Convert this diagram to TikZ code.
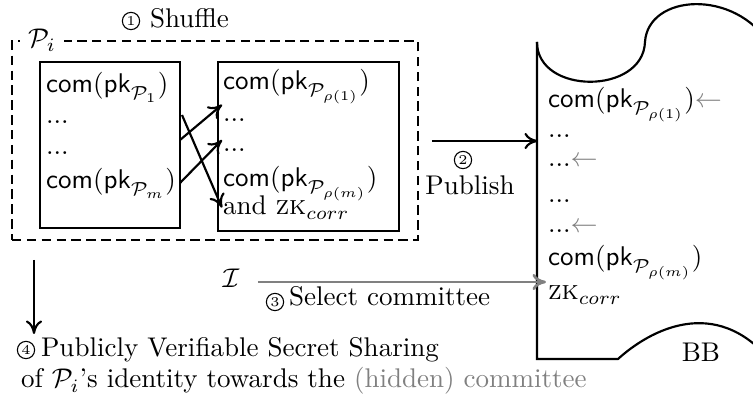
\documentclass[tikz,border=0pt]{standalone}
\usetikzlibrary{fit,arrows.meta}
\definecolor{hint}{gray}{0.5}
\newcommand{\commit}[1]{\ensuremath{\mathsf{com}(\mathsf{pk}_{\mathcal{P}_{#1}})}}
\newcommand{\zkcorr}{\ensuremath{\textsc{zk}_{corr}}}
\begin{document}
\begin{tikzpicture}[x=0.37pt,y=-0.37pt,
  line width=0.8pt,
  >={Computer Modern Rightarrow[length=5pt,width=6pt]},
  every node/.style={inner sep=0pt},
  txt/.style={anchor=base west},
  num/.style={circle, draw, line width=0.4pt, font=\tiny, minimum size=6.4pt, inner sep=0pt},
  area/.style={draw, line width=0.6pt, dash pattern=on 3.5pt off 2pt},
  gray arrow/.style={->, draw=hint, line width=1pt},
]
\useasboundingbox (0,0) rectangle (753,403);

% the participant's own area
\node[area, fit={(12,41) (418,240)}] (area) {};
\node[fill=white, inner xsep=3pt, inner ysep=1pt] (pi) at (42,40) {$\mathcal{P}_i$};
\node[num] (n1) at (131,21) {1};
\node[txt] (shuffle) at (149,28) {Shuffle};

% commitments before shuffling
\node[draw, fit={(40,62) (180,228)}] (lbox) {};
\node[txt] (l1) at (45,93) {\commit{1}};
\node[txt] (l2) at (45,124) {...};
\node[txt] (l3) at (45,155) {...};
\node[txt] (l4) at (45,189) {\commit{m}};

% commitments after shuffling
\node[draw, fit={(218,62) (399,231)}] (rbox) {};
\node[txt] (r1) at (222,90) {\commit{\rho(1)}};
\node[txt] (r2) at (222,122) {...};
\node[txt] (r3) at (222,152) {...};
\node[txt] (r4) at (222,187) {\commit{\rho(m)}};
\node[txt] (r5) at (222,215) {and \zkcorr};

% permutation arrows
\coordinate (a1) at (180,140);
\coordinate (a2) at (180,183);
\coordinate (a3) at (182,115);
\coordinate (t2) at (222,140);
\draw[->] (a1) -- (r1.south west);
\draw[->] (a2) -- (t2);
\draw[->] (a3) -- (r5.west);

% bulletin board
\coordinate (bbtop) at (537,42);
\coordinate (bbbot) at (537,359);
\draw (bbtop) .. controls (537,95) and (643,95) .. (645,42)
      .. controls (648,-6) and (735,-12) .. (770,45);
\draw (bbtop) -- (bbbot) -- (618,359) .. controls (650,330) and (715,295) .. (770,360);
\node[txt] (b1) at (547,108) {\commit{\rho(1)}\textcolor{hint}{$\leftarrow$}};
\node[txt] (b2) at (547,138) {...};
\node[txt] (b3) at (547,167) {...\textcolor{hint}{$\leftarrow$}};
\node[txt] (b4) at (547,203) {...};
\node[txt] (b5) at (547,233) {...\textcolor{hint}{$\leftarrow$}};
\node[txt] (b6) at (547,266) {\commit{\rho(m)}};
\node[txt] (b7) at (547,300) {\zkcorr};
\node[anchor=base] (bb) at (701,362) {BB};

% publishing
\coordinate (p0) at (432,141);
\coordinate (p1) at (538,141);
\draw[->] (p0) -- (p1);
\node[num] (n2) at (463,160) {2};
\node[anchor=base] (publish) at (470,195) {Publish};

% committee selection
\node (ii) at (231,278) {$\mathcal{I}$};
\coordinate (g0) at (258,282);
\coordinate (g1) at (546,282);
\draw[gray arrow] (g0) -- (g1);
\node[num] (n3) at (275,302) {3};
\node[txt] (select) at (288,306) {Select committee};

% secret sharing
\coordinate (d0) at (34,260);
\coordinate (d1) at (34,334);
\draw[->] (d0) -- (d1);
\node[num] (n4) at (26,350) {4};
\node[txt] (pvss1) at (40,357) {Publicly Verifiable Secret Sharing};
\node[txt] (pvss2) at (20,388) {of $\mathcal{P}_i$'s identity towards the \textcolor{hint}{(hidden) committee}};
\end{tikzpicture}
\end{document}
